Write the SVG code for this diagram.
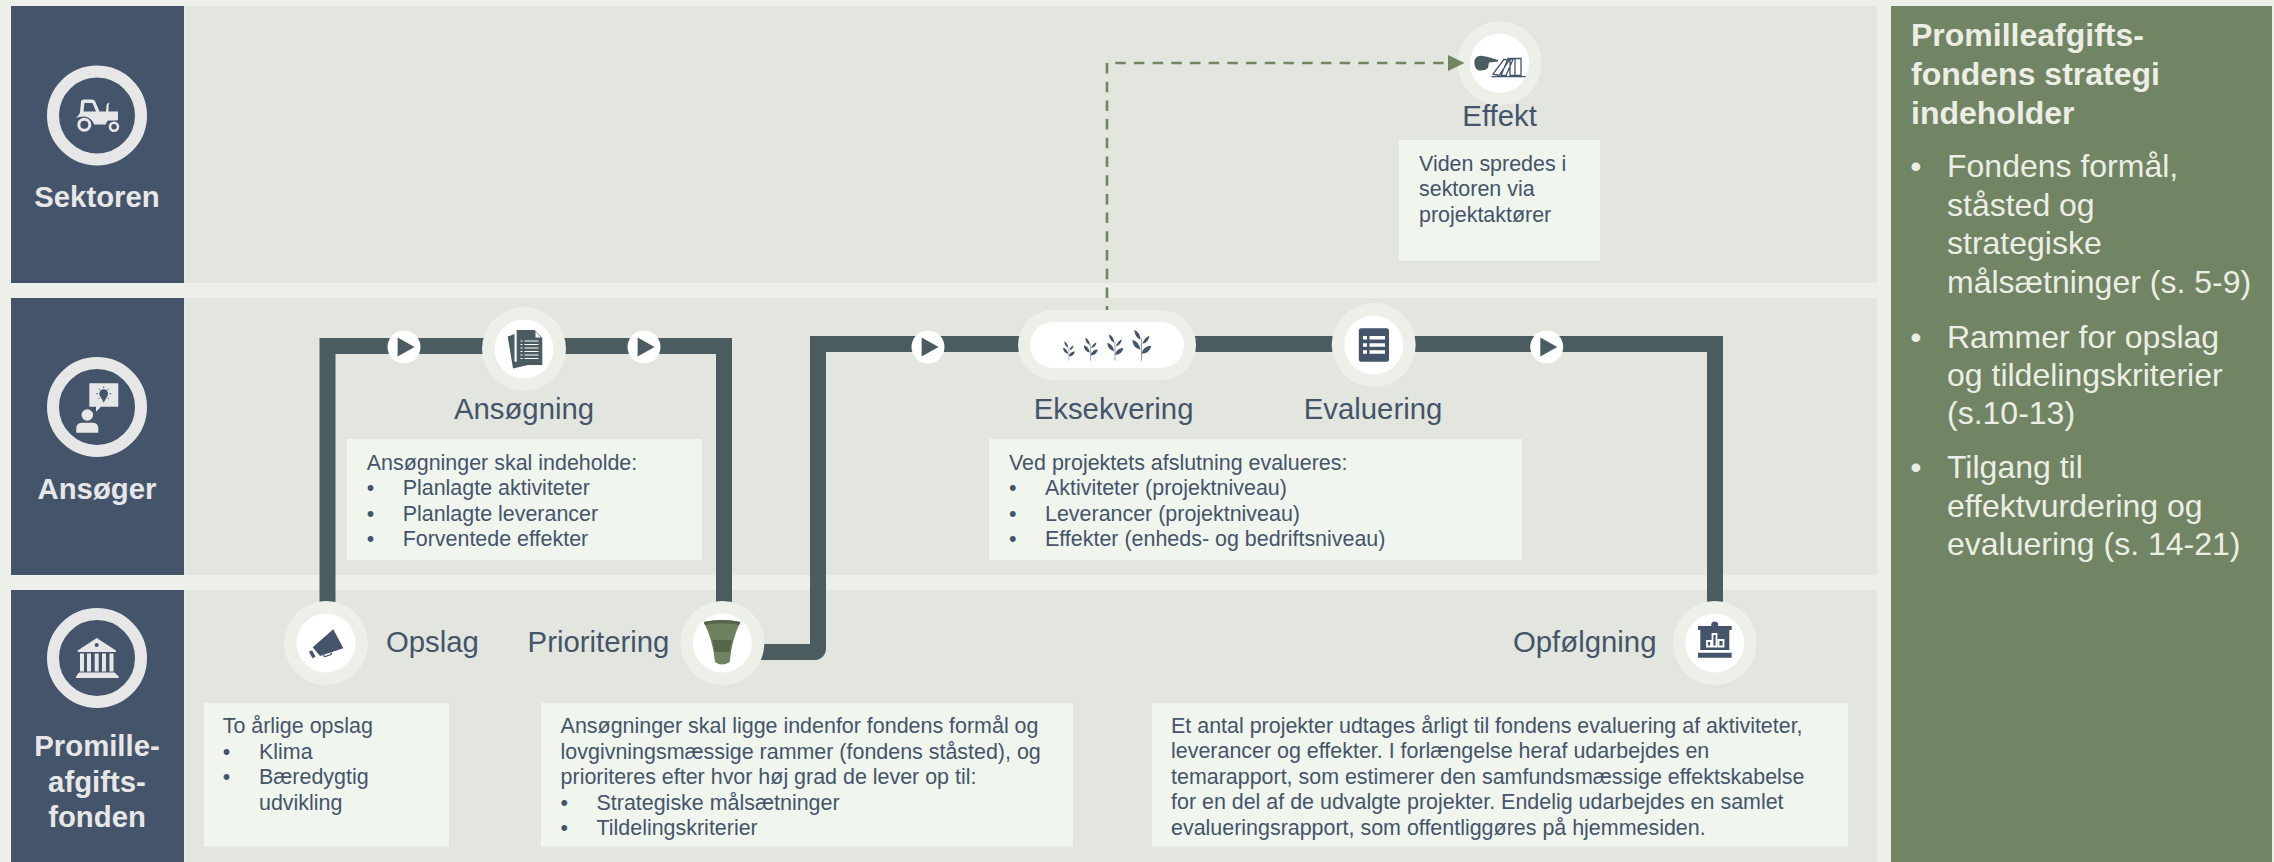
<svg xmlns="http://www.w3.org/2000/svg" xmlns:xlink="http://www.w3.org/1999/xlink" width="2274" height="862" viewBox="0 0 2274 862">
<style>
text{font-family:"Liberation Sans",Arial,sans-serif}
.band{fill:#e3e6df}
.lane{fill:#44546a}
.ring{fill:none;stroke:#e7e7e7;stroke-width:12}
.lanet{font-size:29.33px;font-weight:700;fill:#e7e7e7;text-anchor:middle}
.lbl{font-size:29.33px;fill:#44546a}
.mid{text-anchor:middle}
.box{fill:#f0f5ee}
.t{font-size:21.45px;fill:#44546a}
.halo{fill:#ecf0e8}
.disc{fill:#fff}
.pipe{fill:none;stroke:#4a5c60;stroke-width:16;stroke-linejoin:miter}
.dash{fill:none;stroke:#718661;stroke-width:2.6;stroke-dasharray:10.5 8.2;stroke-dashoffset:6.6}
.ph{font-size:32px;font-weight:700;fill:#eceee6}
.pb{font-size:32px;fill:#eceee6}
.ic{fill:#44546a}
.icl{fill:#e7e7e7}
</style>
<defs>
<marker id="arrow" markerUnits="userSpaceOnUse" markerWidth="17" markerHeight="17" refX="0" refY="8" orient="auto"><path d="M0,0L16.5,8L0,16Z" fill="#718661"/></marker>
<g id="play"><circle r="16.5" fill="#fff"/><path d="M-6.4,-9.5L10.6,0L-6.4,9.5Z" fill="#4a5c60"/></g>
<g id="plant"><path d="M0,0V-22" stroke="#8a95a3" stroke-width="1" fill="none"/><path class="ic" d="M0,-7Q2,-15 10,-15Q8,-7 0,-7ZM-1,-11Q-9,-13 -9,-21Q-2,-19 -1,-11ZM1,-17Q3,-23 8,-25Q7,-18 1,-17ZM-1,-21Q-7,-24 -7,-31Q-1,-28 -1,-21Z"/></g>
</defs>
<rect width="2274" height="862" fill="#ecf0e8"/>
<g id="bands">
<rect class="band" x="184.500" y="6" width="1692.500" height="277"/>
<rect class="band" x="184.500" y="298" width="1692.500" height="277"/>
<rect class="band" x="184.500" y="590" width="1692.500" height="272"/>
</g>
<g id="lane-sektoren">
<rect class="lane" x="11" y="6" width="173" height="277"/>
<circle class="ring" cx="97" cy="115.500" r="44"/>
<path class="icl" d="M76,118Q80,114 80,112L81,102Q81,99.500 84,99.500H92Q94,99.500 95,101L99.500,111.500H106L106.500,105Q107,103 109.500,102.500L108.500,106V111.500H118V119Q118,120.500 116,120.500H108Q106,122 106,124.500H94L93,122Q90,117 84,116.500Q79,116.500 76,118ZM84.500,103L83.500,111.500H96L92.500,103Z" fill-rule="evenodd"/>
<circle cx="84.300" cy="124.700" r="5.500" fill="none" stroke="#e7e7e7" stroke-width="3"/>
<circle cx="114" cy="126.700" r="4" fill="none" stroke="#e7e7e7" stroke-width="2.600"/>
<text class="lanet" x="97" y="207">Sektoren</text>
</g>
<g id="lane-ansoeger">
<rect class="lane" x="11" y="298" width="173" height="277"/>
<circle class="ring" cx="97" cy="407" r="44"/>
<circle class="icl" cx="87.300" cy="415" r="5.800"/>
<path class="icl" d="M76.300,432.700V428Q76.300,422.700 83,422.700H92Q98.300,422.700 98.300,428V432.700Z"/>
<path class="icl" d="M89.300,384Q89.300,383.300 90,383.300H117.600Q118.300,383.300 118.300,384V406Q118.300,406.700 117.600,406.700H101L96,411.700V406.700H90Q89.300,406.700 89.300,406Z"/>
<circle class="lane" cx="103.700" cy="393.700" r="4.400"/>
<path class="lane" d="M100.500,396.500H107L103.700,402.700Z"/>
<path d="M96.300,393.700H98M109.500,393.700H111.300M103.700,386.500V388M98.600,388.800L99.800,390M108.800,388.800L107.600,390M98.600,398.800L99.800,397.600M108.800,398.800L107.600,397.600" stroke="#44546a" stroke-width="0.900" fill="none"/>
<text class="lanet" x="97" y="499">Ansøger</text>
</g>
<g id="lane-fonden">
<rect class="lane" x="11" y="590" width="173" height="272"/>
<circle class="ring" cx="97" cy="658" r="44"/>
<path class="icl" d="M96.700,638L116,650.500V652H77.700V650.500Z"/>
<circle class="lane" cx="96.700" cy="645" r="2"/>
<path class="icl" d="M80,653.500H84V671.500H80ZM87,653.500H91V671.500H87ZM94.700,653.500H98.700V671.500H94.700ZM102,653.500H106V671.500H102ZM109.500,653.500H113.500V671.500H109.500ZM79,672.500H114.500L118.700,676.500V678H76V676.500Z"/>
<text class="lanet" x="97" y="755.700">Promille-</text>
<text class="lanet" x="97" y="791.500">afgifts-</text>
<text class="lanet" x="97" y="827">fonden</text>
</g>
<g id="connectors">
<path class="pipe" d="M327.500,607V346H724V607"/>
<path class="pipe" d="M730,652H814Q818,652 818,648V344H1715V607"/>
<use xlink:href="#play" href="#play" x="404" y="347"/>
<use xlink:href="#play" href="#play" x="644" y="347"/>
<use xlink:href="#play" href="#play" x="928" y="347"/>
<use xlink:href="#play" href="#play" x="1546.700" y="347"/>
</g>
<g id="node-effekt">
<circle class="halo" cx="1499.600" cy="63.300" r="42"/>
<circle class="disc" cx="1499.600" cy="63.300" r="29.500"/>
<path d="M1474.300,62Q1474.500,56 1481,55.700L1487,56.800L1498,60V61.500L1489,62.500L1488,68Q1485,71 1479,70.500Q1474.500,69 1474.300,62Z" fill="#4a5c60"/>
<path d="M1491.400,76.700H1525.700M1493,74L1499,75.500L1509,60.500L1504,59.300ZM1501,75.500H1506L1513,59.300L1508,58.500ZM1510,75.500V58.500H1515V75.500ZM1515,75.500V58.500H1521V75.500Z" fill="none" stroke="#44546a" stroke-width="1.300"/>
<text class="lbl mid" x="1499.600" y="126">Effekt</text>
<rect class="box" x="1399" y="140" width="201" height="120.700"/>
<text class="t" x="1419" y="171">Viden spredes i</text>
<text class="t" x="1419" y="196">sektoren via</text>
<text class="t" x="1419" y="221.500">projektaktører</text>
</g>
<g id="node-ansoegning">
<circle class="halo" cx="524" cy="349" r="42"/>
<circle class="disc" cx="524" cy="349" r="29.500"/>
<path d="M507.700,336.500L514.500,334V361.500L534.500,363.500L513,368.500Z" fill="#4a5c60"/>
<path d="M516.700,330H534.500L542.300,338V365H516.700Z" fill="#4a5c60"/>
<path d="M535.500,331.500L541,337.500H535.500Z" fill="#fff"/>
<path d="M524.500,341H538.500M524.500,344.500H538.500M524.500,348H538.500M524.500,351.500H538.500M524.500,355H538.500M524.500,358.500H538.500" stroke="#fff" stroke-width="1.200"/>
<path d="M520.500,341H522.500M520.500,344.500H522.500M520.500,348H522.500M520.500,351.500H522.500M520.500,355H522.500M520.500,358.500H522.500" stroke="#fff" stroke-width="1.200"/>
<text class="lbl mid" x="524" y="419">Ansøgning</text>
<rect class="box" x="347" y="439" width="355" height="121"/>
<text class="t" x="366.700" y="470">Ansøgninger skal indeholde:</text>
<text class="t" x="366.700" y="495">•</text><text class="t" x="402.700" y="495">Planlagte aktiviteter</text>
<text class="t" x="366.700" y="521">•</text><text class="t" x="402.700" y="521">Planlagte leverancer</text>
<text class="t" x="366.700" y="546">•</text><text class="t" x="402.700" y="546">Forventede effekter</text>
</g>
<g id="node-eksekvering">
<rect class="halo" x="1018" y="310" width="178" height="70" rx="35"/>
<rect class="disc" x="1030" y="322" width="154" height="46" rx="23"/>
<use xlink:href="#plant" href="#plant" transform="translate(1068.700 360.700) scale(.62)"/>
<use xlink:href="#plant" href="#plant" transform="translate(1090.500 360.700) scale(.74)"/>
<use xlink:href="#plant" href="#plant" transform="translate(1115 360.700) scale(.85)"/>
<use xlink:href="#plant" href="#plant" transform="translate(1141.400 360.700)"/>
<text class="lbl mid" x="1113.600" y="419">Eksekvering</text>
</g>
<g id="node-evaluering">
<circle class="halo" cx="1373.700" cy="345" r="42"/>
<circle class="disc" cx="1373.700" cy="345" r="29.500"/>
<rect class="ic" x="1358.800" y="328.300" width="30.200" height="33.400" rx="2.500"/>
<path d="M1363,336H1367V339.500H1363ZM1369.500,336H1385V339.500H1369.500ZM1363,343.300H1367V346.800H1363ZM1369.500,343.300H1385V346.800H1369.500ZM1363,350.300H1367V353.800H1363ZM1369.500,350.300H1385V353.800H1369.500Z" fill="#fff"/>
<text class="lbl mid" x="1373" y="419">Evaluering</text>
<rect class="box" x="989" y="439" width="533" height="121"/>
<text class="t" x="1009" y="470">Ved projektets afslutning evalueres:</text>
<text class="t" x="1009" y="495">•</text><text class="t" x="1045" y="495">Aktiviteter (projektniveau)</text>
<text class="t" x="1009" y="521">•</text><text class="t" x="1045" y="521">Leverancer (projektniveau)</text>
<text class="t" x="1009" y="546">•</text><text class="t" x="1045" y="546">Effekter (enheds- og bedriftsniveau)</text>
</g>
<g id="node-opslag">
<circle class="halo" cx="326" cy="643" r="42"/>
<circle class="disc" cx="326" cy="643" r="29.500"/>
<path class="ic" d="M333.300,629.300L343.300,648.300L320,656L312.700,647.300Z"/>
<path d="M310.500,651L314,657.500" stroke="#44546a" stroke-width="3.500" fill="none"/>
<path d="M323,655.500L325,656.500L331,654.500L331.500,652.500" stroke="#44546a" stroke-width="1.200" fill="none"/>
<text class="lbl" x="386" y="651.700">Opslag</text>
<rect class="box" x="204" y="703" width="245" height="143.700"/>
<text class="t" x="222.700" y="733">To årlige opslag</text>
<text class="t" x="222.700" y="759">•</text><text class="t" x="259" y="759">Klima</text>
<text class="t" x="222.700" y="784">•</text><text class="t" x="259" y="784">Bæredygtig</text>
<text class="t" x="259" y="810">udvikling</text>
</g>
<g id="node-prioritering">
<circle class="halo" cx="722.400" cy="643" r="42"/>
<circle class="disc" cx="722.400" cy="643" r="29.500"/>
<path d="M703.700,622Q722,618 740.400,622Q731.500,640 729.700,662Q722,667 715,662Q713,640 703.700,622Z" fill="#6f8260"/>
<path d="M703.700,622Q722,618 740.400,622L739,625Q722,621.500 705,625Z" fill="#55654a"/>
<path d="M712.500,640H732Q730.500,646 730,652H714.500Q714,646 712.500,640Z" fill="#57664a"/>
<text class="lbl" x="527.600" y="651.700">Prioritering</text>
<rect class="box" x="541" y="703" width="532" height="143.700"/>
<text class="t" x="560.600" y="733">Ansøgninger skal ligge indenfor fondens formål og</text>
<text class="t" x="560.600" y="759">lovgivningsmæssige rammer (fondens ståsted), og</text>
<text class="t" x="560.600" y="784">prioriteres efter hvor høj grad de lever op til:</text>
<text class="t" x="560.600" y="810">•</text><text class="t" x="596.500" y="810">Strategiske målsætninger</text>
<text class="t" x="560.600" y="835">•</text><text class="t" x="596.500" y="835">Tildelingskriterier</text>
</g>
<g id="node-opfoelgning">
<circle class="halo" cx="1714.700" cy="643" r="42"/>
<circle class="disc" cx="1714.700" cy="643" r="29.500"/>
<circle class="ic" cx="1714.700" cy="625" r="3.500"/>
<path class="ic" d="M1698,626H1731.700V630H1729.300V650H1700.300V630H1698ZM1698,652.700H1731.700V657.700H1698Z"/>
<path d="M1707,641H1711V646.500H1707ZM1712.500,634H1716.500V646.500H1712.500ZM1718.500,640H1723.500V646.500H1718.500Z" fill="none" stroke="#fff" stroke-width="1.800"/>
<text class="lbl" x="1513" y="651.700">Opfølgning</text>
<rect class="box" x="1152" y="703" width="696" height="143.700"/>
<text class="t" x="1171" y="732.700">Et antal projekter udtages årligt til fondens evaluering af aktiviteter,</text>
<text class="t" x="1171" y="758">leverancer og effekter. I forlængelse heraf udarbejdes en</text>
<text class="t" x="1171" y="784">temarapport, som estimerer den samfundsmæssige effektskabelse</text>
<text class="t" x="1171" y="809">for en del af de udvalgte projekter. Endelig udarbejdes en samlet</text>
<text class="t" x="1171" y="834.700">evalueringsrapport, som offentliggøres på hjemmesiden.</text>
</g>
<g id="connectors-dashed">
<path class="dash" d="M1107,310V63H1448" marker-end="url(#arrow)"/>
</g>
<g id="panel-strategi">
<rect x="1891" y="6" width="381" height="856" fill="#718463"/>
<text class="ph" x="1911" y="46">Promilleafgifts-</text>
<text class="ph" x="1911" y="85">fondens strategi</text>
<text class="ph" x="1911" y="124">indeholder</text>
<text class="pb" x="1910.300" y="177">•</text><text class="pb" x="1947" y="177">Fondens formål,</text>
<text class="pb" x="1947" y="215.500">ståsted og</text>
<text class="pb" x="1947" y="254">strategiske</text>
<text class="pb" x="1947" y="292.600">målsætninger (s. 5-9)</text>
<text class="pb" x="1910.300" y="347.700">•</text><text class="pb" x="1947" y="347.700">Rammer for opslag</text>
<text class="pb" x="1947" y="385.700">og tildelingskriterier</text>
<text class="pb" x="1947" y="424">(s.10-13)</text>
<text class="pb" x="1910.300" y="478">•</text><text class="pb" x="1947" y="478">Tilgang til</text>
<text class="pb" x="1947" y="516.700">effektvurdering og</text>
<text class="pb" x="1947" y="555.300">evaluering (s. 14-21)</text>
</g>
</svg>
